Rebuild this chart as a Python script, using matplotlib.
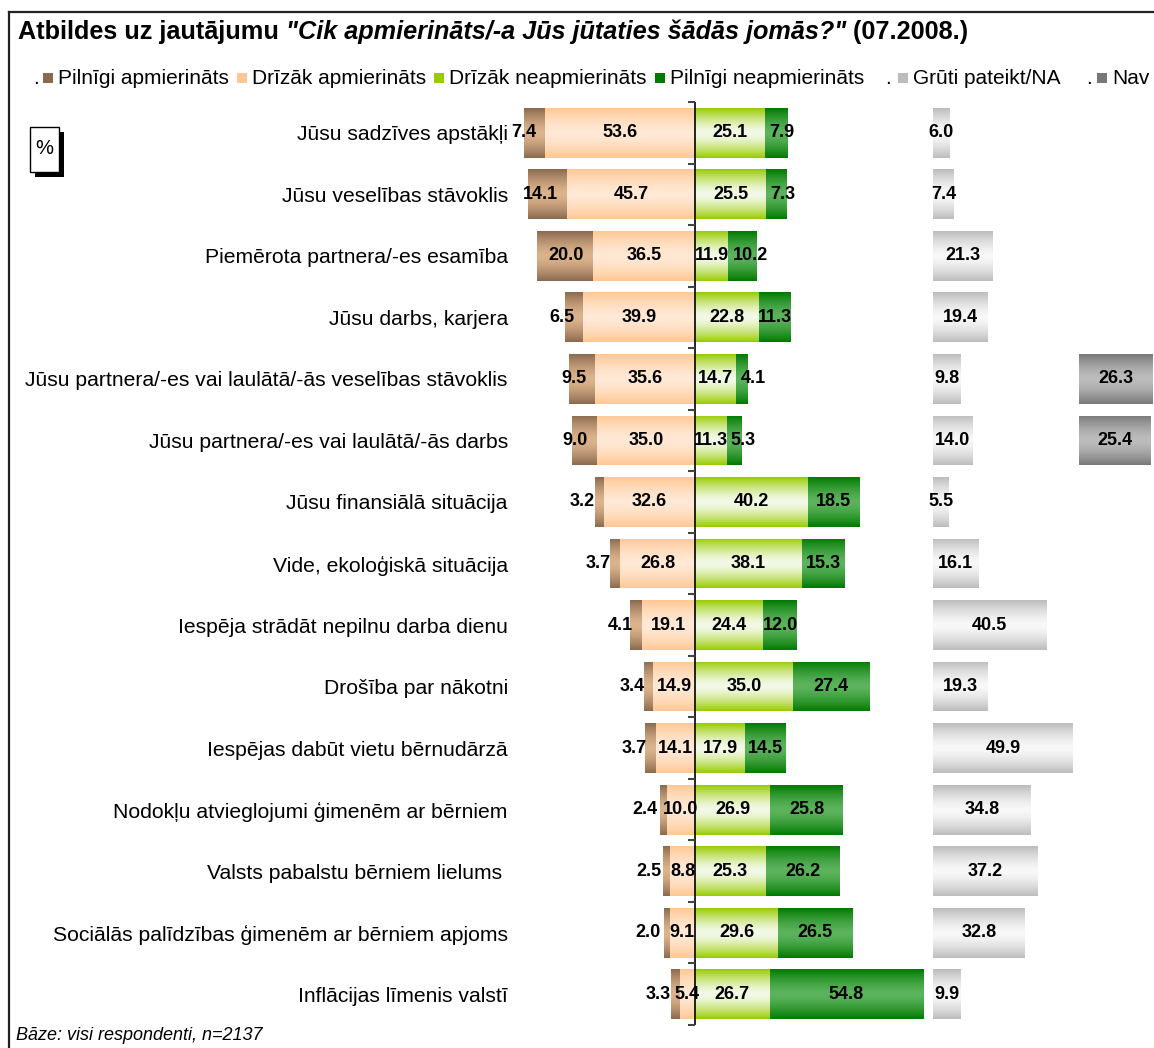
import matplotlib.pyplot as plt
import numpy as np
from matplotlib.colors import LinearSegmentedColormap
from matplotlib.patches import Rectangle
from matplotlib.lines import Line2D

plt.rcParams['font.family'] = ['Liberation Sans', 'DejaVu Sans']

# Kategorijas (no augšas uz leju)
kategorijas = [
    "Jūsu sadzīves apstākļi",
    "Jūsu veselības stāvoklis",
    "Piemērota partnera/-es esamība",
    "Jūsu darbs, karjera",
    "Jūsu partnera/-es vai laulātā/-ās veselības stāvoklis",
    "Jūsu partnera/-es vai laulātā/-ās darbs",
    "Jūsu finansiālā situācija",
    "Vide, ekoloģiskā situācija",
    "Iespēja strādāt nepilnu darba dienu",
    "Drošība par nākotni",
    "Iespējas dabūt vietu bērnudārzā",
    "Nodokļu atvieglojumi ģimenēm ar bērniem",
    "Valsts pabalstu bērniem lielums ",
    "Sociālās palīdzības ģimenēm ar bērniem apjoms",
    "Inflācijas līmenis valstī",
]

# Vērtības (%)
pilnigi_apm = [7.4, 14.1, 20.0, 6.5, 9.5, 9.0, 3.2, 3.7, 4.1, 3.4, 3.7, 2.4, 2.5, 2.0, 3.3]
drizak_apm = [53.6, 45.7, 36.5, 39.9, 35.6, 35.0, 32.6, 26.8, 19.1, 14.9, 14.1, 10.0, 8.8, 9.1, 5.4]
drizak_neapm = [25.1, 25.5, 11.9, 22.8, 14.7, 11.3, 40.2, 38.1, 24.4, 35.0, 17.9, 26.9, 25.3, 29.6, 26.7]
pilnigi_neapm = [7.9, 7.3, 10.2, 11.3, 4.1, 5.3, 18.5, 15.3, 12.0, 27.4, 14.5, 25.8, 26.2, 26.5, 54.8]
gruti_na = [6.0, 7.4, 21.3, 19.4, 9.8, 14.0, 5.5, 16.1, 40.5, 19.3, 49.9, 34.8, 37.2, 32.8, 9.9]
nav = [None, None, None, None, 26.3, 25.4, None, None, None, None, None, None, None, None, None]

leg_teksti = ["Pilnīgi apmierināts", "Drīzāk apmierināts", "Drīzāk neapmierināts",
              "Pilnīgi neapmierināts", "Grūti pateikt/NA", "Nav"]

# krāsas: (mala, vidus) gradientam
krasas = {
    'brown': ('#8a6a4e', '#dcb38c'),
    'peach': ('#ffc794', '#ffe9d6'),
    'lgreen': ('#99cc00', '#f3f9e8'),
    'dgreen': ('#007a00', '#5cb35c'),
    'lgray': ('#bcbcbc', '#f8f8f8'),
    'dgray': ('#787878', '#bdbdbd'),
}

GRUTI_START = 85.0   # atsevišķās sadaļas sākums
NAV_START = 137.1
W, H = 1154, 1048

fig = plt.figure(figsize=(W / 100, H / 100), dpi=100)
ax = fig.add_axes([512 / W, 23 / H, (W - 512) / W, 923 / H])

y = np.arange(len(kategorijas))
bh = 0.81
pa = np.array(pilnigi_apm)
da = np.array(drizak_apm)
dn = np.array(drizak_neapm)
pn = np.array(pilnigi_neapm)
gr = np.array(gruti_na)

b_pa = ax.barh(y, pa, left=-(pa + da), height=bh, color=krasas['brown'][0])
b_da = ax.barh(y, da, left=-da, height=bh, color=krasas['peach'][0])
b_dn = ax.barh(y, dn, left=0, height=bh, color=krasas['lgreen'][0])
b_pn = ax.barh(y, pn, left=dn, height=bh, color=krasas['dgreen'][0])
b_gr = ax.barh(y, gr, left=GRUTI_START, height=bh, color=krasas['lgray'][0])
nav_y = [i for i, v in enumerate(nav) if v is not None]
nav_v = [v for v in nav if v is not None]
b_nav = ax.barh(nav_y, nav_v, left=NAV_START, height=bh, color=krasas['dgray'][0])

t = np.linspace(0, 1, 128)
prof = (np.abs(2 * t - 1) ** 1.5).reshape(-1, 1)


def gradients(bars, key):
    cmap = LinearSegmentedColormap.from_list(key, [krasas[key][1], krasas[key][0]])
    for b in bars:
        x0, y0, w, h = b.get_x(), b.get_y(), b.get_width(), b.get_height()
        im = ax.imshow(prof, cmap=cmap, vmin=0, vmax=1, aspect='auto',
                       extent=[x0, x0 + w, y0 + h, y0], interpolation='bilinear', zorder=2)
        im.set_clip_path(b)


gradients(b_pa, 'brown')
gradients(b_da, 'peach')
gradients(b_dn, 'lgreen')
gradients(b_pn, 'dgreen')
gradients(b_gr, 'lgray')
gradients(b_nav, 'dgray')

ax.set_xlim((512 - 695) / 2.8, (W - 695) / 2.8)
ax.set_ylim(len(kategorijas) - 0.5, -0.5)

# nulles līnija ar iedaļām
ax.axvline(0, color='black', lw=1.2, zorder=4)
ax.plot(np.zeros(len(y) + 1), np.arange(len(y) + 1) - 0.5, ls='', marker=0,
        ms=5, mew=1.5, color='#444444', zorder=4, clip_on=False)

# datu etiķetes
lab = dict(fontsize=13, fontweight='bold', va='center', zorder=5)
for i in y:
    ax.annotate(f"{pa[i]:.1f}", (-da[i], i), xytext=(-6.5, 0), textcoords='offset points',
                ha='right', **lab)
    ax.text(-da[i] / 2, i, f"{da[i]:.1f}", ha='center', **lab)
    ax.text(dn[i] / 2, i, f"{dn[i]:.1f}", ha='center', **lab)
    if pn[i] < 11:
        ax.annotate(f"{pn[i]:.1f}", (dn[i], i), xytext=(3, 0), textcoords='offset points',
                    ha='left', **lab)
    else:
        ax.text(dn[i] + pn[i] / 2, i, f"{pn[i]:.1f}", ha='center', **lab)
    ax.text(GRUTI_START + gr[i] / 2, i, f"{gr[i]:.1f}", ha='center', **lab)
for i, v in zip(nav_y, nav_v):
    ax.text(NAV_START + v / 2, i, f"{v:.1f}", ha='center', **lab)

ax.set_yticks(y)
ax.set_yticklabels(kategorijas, fontsize=15.2)
ax.tick_params(axis='y', length=0, pad=3)
ax.set_xticks([])
for s in ax.spines.values():
    s.set_visible(False)

# rāmis
fig.add_artist(Line2D([9 / W, 1], [1 - 12 / H, 1 - 12 / H], color='#222222', lw=1.6))
fig.add_artist(Line2D([9 / W, 9 / W], [0, 1 - 12 / H], color='#222222', lw=1.6))

# virsraksts ar jauktu stilu
r = fig.canvas.get_renderer()
x = 18 / W
yt = 1 - 32 / H
for txt, st in [("Atbildes uz jautājumu ", 'normal'),
                ('"Cik apmierināts/-a Jūs jūtaties šādās jomās?"', 'italic'),
                (" (07.2008.)", 'normal')]:
    tt = fig.text(x, yt, txt, fontsize=18.2, fontweight='bold', style=st, va='center', ha='left')
    bb = tt.get_window_extent(r)
    x += bb.width / W

# leģenda
yl = 1 - 78 / H
leg_kr = ['brown', 'peach', 'lgreen', 'dgreen', 'lgray', 'dgray']
kv_x = [43, 237, 434, 655, 898, 1097]
punkti = [33, None, None, None, 885, 1086]
for k, px, dx, txt in zip(leg_kr, kv_x, punkti, leg_teksti):
    if dx is not None:
        fig.text(dx / W, yl, ".", fontsize=15, va='center', ha='left')
    fig.add_artist(Rectangle((px / W, yl - 5 / H), 10 / W, 10 / H,
                             facecolor=krasas[k][0], edgecolor='none'))
    fig.text((px + 15) / W, yl, txt, fontsize=15, va='center', ha='left')

# % lodziņš
fig.add_artist(Rectangle((35 / W, 1 - 177 / H), 29 / W, 45 / H, facecolor='black', edgecolor='none'))
fig.add_artist(Rectangle((30 / W, 1 - 172 / H), 29 / W, 45 / H, facecolor='white',
                         edgecolor='black', lw=1))
fig.text(44.5 / W, 1 - 148 / H, "%", fontsize=14.5, ha='center', va='center')

fig.text(16 / W, 1 - 1035 / H, "Bāze: visi respondenti, n=2137", fontsize=13,
         style='italic', va='center', ha='left')

fig.savefig('out.png', dpi=100)
